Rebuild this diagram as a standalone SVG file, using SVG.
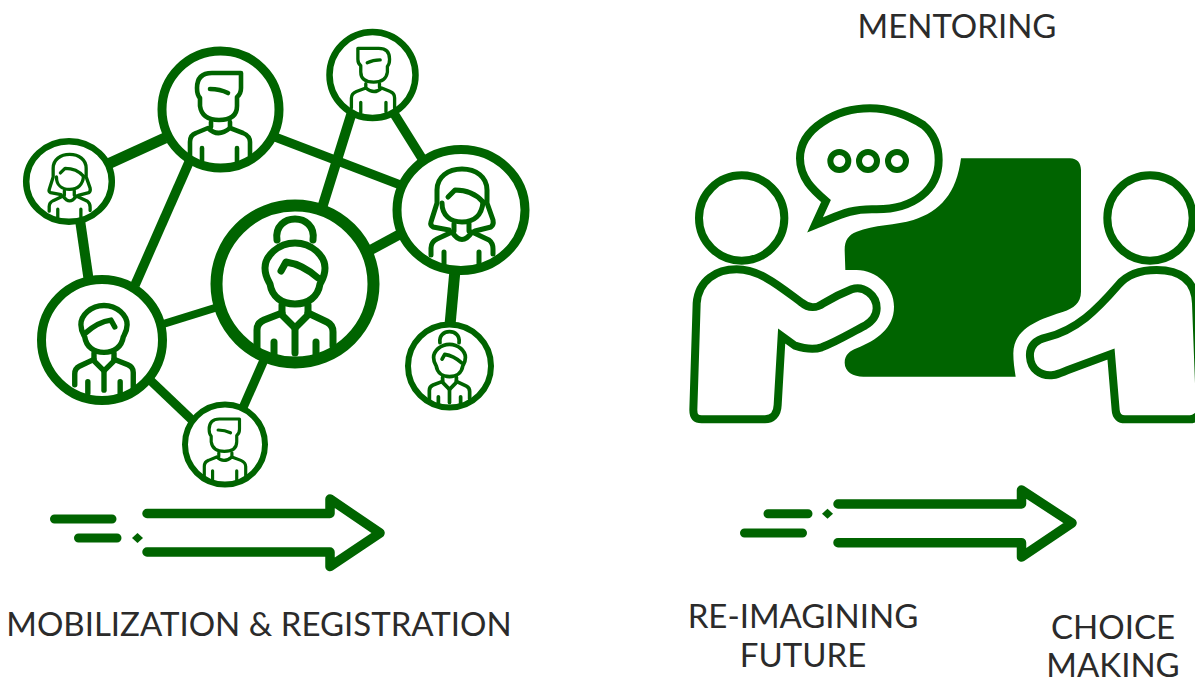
<svg xmlns="http://www.w3.org/2000/svg" xmlns:xlink="http://www.w3.org/1999/xlink" width="1195" height="679" viewBox="0 0 1195 679">
<style>
.g{fill:none;stroke:#006400;stroke-linecap:round;stroke-linejoin:round}
.ring{fill:#fff;stroke:#006400}
.c{stroke:#006400;fill:none}
.t{font-family:"Lato","Liberation Sans",sans-serif;font-size:33px;fill:#2b2b2b;text-anchor:middle}
.ic{fill:none;stroke:#006400;stroke-width:24}
</style>
<defs>
<g id="man" class="g" stroke-width="4.6">
<path d="M21,-37H-8Q-23,-37-23,-22Q-23,-15-20,-12V-4Q-18,10-1,10Q17,10 17,-4V-13Q21,-16 21,-22Z"/>
<path d="M-10,-21Q0,-21 8,-17"/>
<path d="M-9,12V17M10,12V17"/>
<path d="M-30,47V32Q-30,25-24,23L-12,18Q-2,28 10,18L23,23Q30,26 30,32V46"/>
<path d="M-18,38V51M17,38V52"/>
</g>
<g id="suit" class="g" stroke-width="7">
<path d="M0,-41C17,-41 30,-28 30,-16C30,-8 27,-4 25,0C23,13 13,20 0,20C-13,20-23,13-25,0C-27,-4-30,-8-30,-16C-30,-28-17,-41 0,-41Z"/>
<path d="M-14,-13L-9,-22C5,-20 14,-14 23,-6"/>
<path d="M-13,21V31L0,44L13,31V21"/>
<path d="M0,44V69"/>
<path d="M-38,67V46Q-38,39-31,36L-13,29M13,29L32,38Q38,41 38,48V62"/>
<path d="M-21,58V73M21,58V73"/>
</g>
<g id="bun"><use href="#suit"/><path class="g" stroke-width="7" d="M-18,-44C-20,-58-10,-65 0,-65C10,-65 20,-58 18,-44"/></g>
<g id="long" class="g" stroke-width="5">
<path d="M-12,20L-28,17Q-31,15-30,12L-24,-7V-20C-24,-33-13,-41 1,-41C15,-41 26,-33 26,-20V-7L32,10Q33,15 30,17L14,21"/>
<path d="M-19,-7C-19,5-11,12 1,12C13,12 21,5 22,-8"/>
<path d="M-13,-13L-6,-20C6,-20 16,-15 22,-8"/>
<path d="M-7,14V21M8,14V21"/>
<path d="M-30,45V38Q-30,32-24,29L-9,22Q1,37 11,22L28,30Q32,33 32,39V44"/>
<path d="M-17,42V54M18,42V54"/>
</g>
</defs>
<g id="connectors">
<path class="c" stroke-width="11" d="M108,164L165,138"/>
<path class="c" stroke-width="9.5" d="M190,160L135,285"/>
<path class="c" stroke-width="10" d="M80,220L89,282"/>
<path class="c" stroke-width="9" d="M275,137L403,186"/>
<path class="c" stroke-width="10" d="M352,112L322,208"/>
<path class="c" stroke-width="9.5" d="M393,112L423,160"/>
<path class="c" stroke-width="10" d="M367,252L404,232"/>
<path class="c" stroke-width="11" d="M455,270L450,325"/>
<path class="c" stroke-width="8" d="M160,325L218,307"/>
<path class="c" stroke-width="9" d="M150,380L192,420"/>
<path class="c" stroke-width="9" d="M264,360L242,410"/>
</g>
<g id="node-mobilized-1"><circle class="ring" cx="220.500" cy="109.500" r="58.500" stroke-width="9"/><use href="#man" x="220" y="110"/></g>
<g id="node-mobilized-2"><ellipse class="ring" cx="69" cy="181.500" rx="42.800" ry="40.300" stroke-width="6.500"/><use href="#long" transform="translate(69,181.500) scale(.66)"/></g>
<g id="node-mobilized-3"><circle class="ring" cx="372.500" cy="75" r="43" stroke-width="6.500"/><use href="#man" transform="translate(373,75) scale(-.72,.72)"/></g>
<g id="node-mobilized-4"><ellipse class="ring" cx="461" cy="210" rx="64" ry="60.500" stroke-width="9"/><use href="#long" x="461" y="210"/></g>
<g id="node-mobilized-5"><circle class="ring" cx="295" cy="284" r="78.500" stroke-width="12"/><use href="#bun" x="295" y="284"/></g>
<g id="node-mobilized-6"><circle class="ring" cx="102" cy="340" r="60.500" stroke-width="9"/><use href="#suit" transform="translate(104,337) scale(-.77,.77)"/></g>
<g id="node-mobilized-7"><circle class="ring" cx="225" cy="444.500" r="40" stroke-width="6"/><use href="#man" transform="translate(225,444.500) scale(.69)"/></g>
<g id="node-mobilized-8"><circle class="ring" cx="449.500" cy="366" r="41.500" stroke-width="6"/><use href="#bun" transform="translate(449.500,366) scale(.53)"/></g>
<g id="arrow-left">
<path class="g" stroke-width="9.500" d="M147,513.500H330V499L380,533L330,566.500V552H147"/>
<path class="g" stroke-width="9" d="M54.500,519H112M78.500,538H117"/>
<path fill="#006400" d="M132,538L137.500,533L143,538L137.500,543Z"/>
</g>
<g id="mentoring" transform="translate(680,90) scale(.33333)">
<path id="board" fill="#006400" d="M843,205H1170C1192,205 1203,220 1203,240V605C1203,640 1180,655 1150,665C1090,685 1000,710 1000,790C1000,815 1003,835 1007,860H550C520,860 494,845 494,818C494,795 510,782 530,775C590,750 642,715 642,650C642,590 590,540 530,540H496L494,480C494,450 505,435 530,425C580,405 650,405 700,390C780,365 830,310 843,205Z"/>
<path class="ic" d="M405,405L438,333C400,300 360,265 360,205C360,115 470,55 570,55C640,55 690,80 730,105C760,130 776,165 776,210C776,300 700,358 590,358C510,355 480,375 405,405Z"/>
<g class="ic" stroke-width="18" style="stroke-width:18"><circle cx="478" cy="213" r="27"/><circle cx="564" cy="213" r="27"/><circle cx="651" cy="213" r="27"/></g>
<circle class="ic" cx="185" cy="384" r="128"/>
<path class="ic" d="M40,960L50,640C55,570 110,538 170,538C240,538 300,590 365,638C385,655 410,655 430,640C450,628 490,608 515,598C550,585 590,615 590,655C590,680 575,695 555,707C510,730 470,755 425,772C400,780 370,775 345,767L305,738L293,945C292,975 275,988 255,988H65C45,988 40,975 40,960Z"/>
<circle class="ic" cx="1410" cy="384" r="128"/>
<path class="ic" d="M1530,988H1335C1320,988 1308,980 1307,960L1293,792L1170,838C1150,845 1135,853 1120,855C1080,860 1052,835 1050,800C1048,770 1065,750 1100,742C1190,720 1250,660 1315,585C1340,555 1380,540 1430,540C1500,540 1545,570 1548,640L1560,960C1560,975 1545,988 1530,988Z"/>
</g>
<g id="arrow-right">
<path class="g" stroke-width="9.500" d="M838,504H1021.500V490L1072,523L1021.500,557V542.700H838"/>
<path class="g" stroke-width="9" d="M768,513.700H808M744.500,533H802.500"/>
<path fill="#006400" d="M822,513.700L827.500,508.700L833,513.700L827.500,518.700Z"/>
</g>
<g id="labels">
<text class="t" x="259" y="636">MOBILIZATION &amp; REGISTRATION</text>
<text class="t" x="957" y="38">MENTORING</text>
<text class="t" x="803" y="628">RE-IMAGINING</text>
<text class="t" x="803" y="667">FUTURE</text>
<text class="t" x="1113" y="639">CHOICE</text>
<text class="t" x="1113" y="677">MAKING</text>
</g>
</svg>
